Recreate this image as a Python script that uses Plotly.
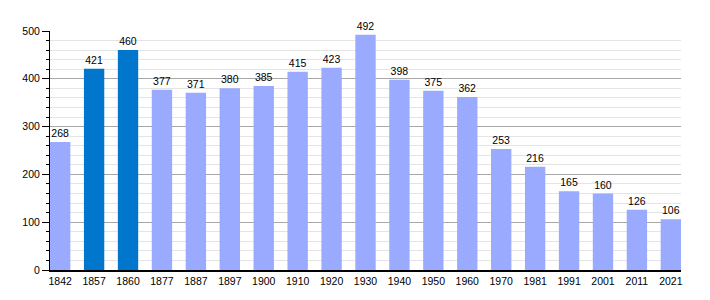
import plotly.graph_objects as go

years = ["1842", "1857", "1860", "1877", "1887", "1897", "1900", "1910", "1920", "1930",
         "1940", "1950", "1960", "1970", "1981", "1991", "2001", "2011", "2021"]
population = [268, 421, 460, 377, 371, 380, 385, 415, 423, 492,
              398, 375, 362, 253, 216, 165, 160, 126, 106]
highlight = ["1857", "1860"]

colors = ["#0077CC" if y in highlight else "#99AAFF" for y in years]

fig = go.Figure(go.Bar(
    x=years, y=population,
    marker=dict(color=colors, line=dict(width=0)),
    text=[str(v) for v in population],
    textposition="outside",
    textfont=dict(size=10.5, color="black", family="Liberation Sans, Arial"),
    cliponaxis=False,
    width=0.6,
))

fig.update_layout(
    width=710, height=300,
    margin=dict(l=50, r=29, t=31, b=30),
    paper_bgcolor="white", plot_bgcolor="white",
    font=dict(family="Liberation Sans, Arial", size=10.5, color="black"),
    showlegend=False,
)
fig.update_xaxes(
    type="category", range=[-0.3, 18.3],
    showline=True, linecolor="black", linewidth=2,
    ticks="", showgrid=False, tickfont=dict(size=10.5),
)
fig.update_yaxes(
    range=[0, 500], dtick=100, tick0=0,
    showline=True, linecolor="black", linewidth=1,
    ticks="outside", ticklen=7, tickcolor="black",
    gridcolor="#A8A8A8", gridwidth=1,
    zeroline=False,
    minor=dict(dtick=20, ticks="outside", ticklen=3, tickcolor="black",
               showgrid=True, gridcolor="#E4E4E4"),
    tickfont=dict(size=10.5),
)

fig.write_html("out.html")
